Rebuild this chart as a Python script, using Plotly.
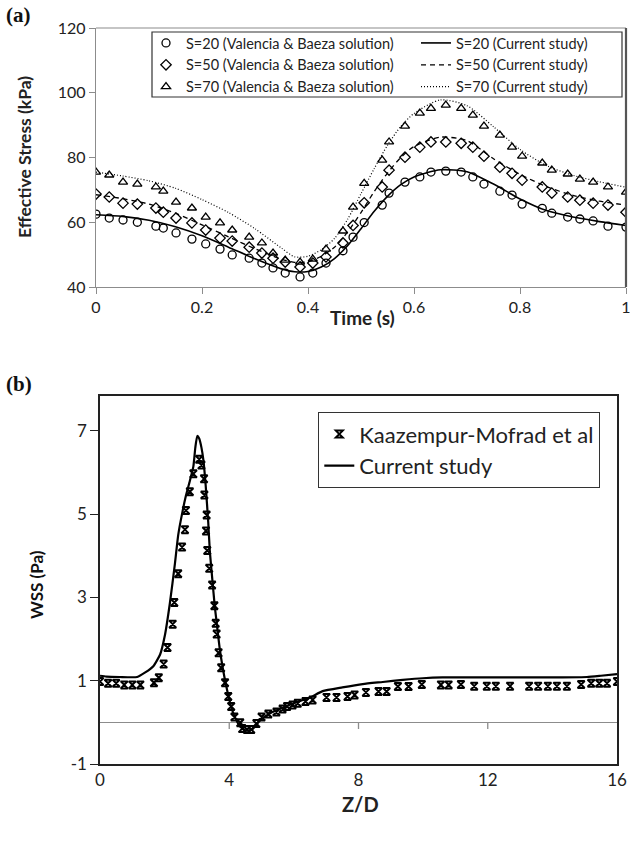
import plotly.graph_objects as go

# ---------------- Panel (a) data ----------------
t_pts = [0, 0.025, 0.051, 0.078, 0.113, 0.127, 0.151, 0.181, 0.207, 0.234, 0.257, 0.289, 0.313, 0.334,
         0.357, 0.385, 0.409, 0.434, 0.466, 0.485, 0.506, 0.54, 0.553, 0.583, 0.611, 0.632, 0.66, 0.689,
         0.711, 0.732, 0.762, 0.785, 0.804, 0.842, 0.86, 0.89, 0.913, 0.938, 0.966, 1.0]
vb_s20 = [62.5, 61.3, 60.7, 60.0, 58.8, 58.2, 56.7, 54.8, 53.3, 51.7, 49.9, 48.9, 47.4, 45.9, 44.3, 43.1,
          44.3, 47.4, 51.2, 55.4, 59.9, 65.3, 69.0, 72.4, 74.0, 75.5, 75.8, 75.5, 74.0, 71.8, 69.6, 68.4,
          65.6, 64.3, 62.8, 61.6, 61.0, 60.4, 58.8, 58.5]
vb_s50 = [68.7, 67.8, 65.9, 65.6, 64.4, 63.1, 61.3, 59.8, 57.6, 55.1, 54.2, 52.3, 50.5, 48.9, 47.7, 46.2,
          47.4, 49.3, 53.6, 59.0, 66.0, 70.9, 76.1, 80.1, 83.2, 84.8, 84.8, 84.4, 83.2, 80.4, 77.0, 75.1,
          73.0, 70.9, 69.0, 67.8, 66.8, 65.9, 65.3, 63.1]
vb_s70 = [75.5, 74.6, 72.4, 71.8, 70.9, 69.6, 66.2, 64.4, 61.6, 59.8, 57.6, 55.4, 53.6, 50.5, 48.3, 47.7,
          48.6, 51.7, 57.3, 64.7, 72.0, 79.2, 84.8, 89.7, 93.7, 95.2, 96.2, 95.2, 93.1, 89.7, 86.9, 83.2,
          80.4, 78.3, 76.1, 74.9, 73.3, 72.4, 70.9, 69.3]

t_line = [0, 0.05, 0.1, 0.15, 0.2, 0.25, 0.3, 0.35, 0.375, 0.4, 0.425, 0.45, 0.475, 0.5, 0.525, 0.55,
          0.575, 0.6, 0.65, 0.7, 0.75, 0.8, 0.85, 0.9, 0.95, 1.0]
cs_s20 = [62.3, 61.8, 60.6, 58.6, 55.8, 52.3, 48.7, 45.6, 44.7, 44.8, 46.2, 48.8, 52.8, 58.0, 63.4, 68.0,
          71.6, 74.0, 76.2, 75.6, 71.8, 67.2, 63.6, 61.6, 60.2, 59.0]
cs_s50 = [68.5, 67.3, 65.6, 62.8, 59.2, 55.5, 51.8, 48.6, 47.6, 47.8, 49.5, 52.3, 57.0, 63.0, 69.5, 75.2,
          80.0, 83.4, 86.3, 85.2, 79.6, 74.8, 71.0, 68.3, 66.5, 65.3]
cs_s70 = [75.5, 74.3, 72.8, 70.5, 67.0, 63.0, 58.0, 52.0, 49.3, 49.5, 51.5, 55.0, 61.0, 68.8, 76.6, 83.8,
          89.6, 93.6, 97.8, 96.0, 89.5, 82.5, 77.5, 74.5, 72.5, 70.8]

a_xticks = [0, 0.2, 0.4, 0.6, 0.8, 1]
a_xticklabels = ["0", "0.2", "0.4", "0.6", "0.8", "1"]
a_yticks = [40, 60, 80, 100, 120]

# ---------------- Panel (b) data ----------------
zd_exp = [0, 0.25, 0.5, 0.75, 1.0, 1.25, 1.67, 1.82, 1.97, 2.09, 2.25, 2.3, 2.42, 2.54, 2.63, 2.66, 2.78,
          2.89, 3.07, 3.14, 3.22, 3.23, 3.3, 3.28, 3.32, 3.38, 3.47, 3.54, 3.58, 3.61, 3.67, 3.75, 3.87,
          3.97, 4.06, 4.16, 4.34, 4.4, 4.55, 4.68, 4.84, 5.0, 5.21, 5.46, 5.65, 5.79, 5.96, 6.12, 6.36,
          6.58, 7.01, 7.32, 7.66, 7.88, 8.23, 8.62, 8.87, 9.22, 9.55, 9.96, 10.55, 10.79, 11.17, 11.58,
          11.97, 12.25, 12.69, 13.28, 13.56, 13.86, 14.14, 14.45, 14.89, 15.2, 15.45, 15.69, 16.0]
wss_exp = [0.98, 0.94, 0.94, 0.9, 0.9, 0.9, 0.95, 1.07, 1.4, 1.8, 2.36, 2.88, 3.57, 4.21, 4.63, 5.09, 5.54,
           5.97, 6.32, 6.18, 5.85, 5.46, 4.98, 4.6, 4.13, 3.7, 3.3, 2.8, 2.38, 2.12, 1.67, 1.31, 0.95,
           0.62, 0.38, 0.13, -0.01, -0.15, -0.17, -0.17, -0.03, 0.13, 0.2, 0.25, 0.32, 0.38, 0.42, 0.46,
           0.5, 0.54, 0.6, 0.6, 0.62, 0.66, 0.72, 0.74, 0.74, 0.86, 0.86, 0.91, 0.9, 0.9, 0.91, 0.87,
           0.87, 0.87, 0.87, 0.87, 0.87, 0.87, 0.87, 0.87, 0.91, 0.94, 0.94, 0.94, 0.98]

zd_cur = [0, 0.2, 0.6, 1.15, 1.4, 1.65, 1.86, 2.01, 2.16, 2.32, 2.42, 2.55, 2.66, 2.78, 2.89, 2.95, 3.01,
          3.07, 3.14, 3.2, 3.27, 3.35, 3.4, 3.48, 3.55, 3.61, 3.7, 3.8, 3.9, 4.03, 4.16, 4.34, 4.53, 4.71,
          4.96, 5.27, 5.65, 6.14, 6.51, 6.89, 7.5, 8.13, 8.75, 9.37, 9.99, 10.6, 11.85, 13.1, 14.3, 15.07,
          15.5, 16.0]
wss_cur = [1.12, 1.1, 1.09, 1.09, 1.2, 1.35, 1.63, 2.1, 2.85, 3.82, 4.5, 5.05, 5.45, 5.8, 6.15, 6.6, 6.88,
           6.82, 6.6, 6.3, 5.7, 4.8, 4.1, 3.4, 2.8, 2.4, 1.8, 1.3, 0.9, 0.46, 0.15, -0.1, -0.2, -0.17,
           0.05, 0.22, 0.35, 0.5, 0.6, 0.75, 0.84, 0.92, 0.97, 1.02, 1.06, 1.08, 1.08, 1.08, 1.08, 1.09,
           1.12, 1.16]

b_xticks = [0, 4, 8, 12, 16]
b_yticks = [-1, 1, 3, 5, 7]
b_yticklabels = ["-1", "1", "3", "5", "7"]

# ---------------- layout helpers ----------------
W, H = 630, 842


def px(x):
    return x / W


def py(y):
    return 1 - y / H


FONT = "Lato"
fig = go.Figure()

mk = dict(color="black", size=8, line=dict(color="black", width=1.3))
fig.add_trace(go.Scatter(x=t_pts, y=vb_s20, mode="markers", name="S=20 (Valencia &amp; Baeza solution)",
                         marker=dict(symbol="circle-open", **mk), legend="legend", legendgroup="a1",
                         xaxis="x", yaxis="y"))
fig.add_trace(go.Scatter(x=t_pts, y=vb_s50, mode="markers", name="S=50 (Valencia &amp; Baeza solution)",
                         marker=dict(symbol="diamond-open", **mk), legend="legend", legendgroup="a2",
                         xaxis="x", yaxis="y"))
fig.add_trace(go.Scatter(x=t_pts, y=vb_s70, mode="markers", name="S=70 (Valencia &amp; Baeza solution)",
                         marker=dict(symbol="triangle-up-open", **mk), legend="legend", legendgroup="a3",
                         xaxis="x", yaxis="y"))
fig.add_trace(go.Scatter(x=t_line, y=cs_s20, mode="lines", name="S=20 (Current study)",
                         line=dict(color="black", width=1.6, shape="spline", smoothing=0.7),
                         legend="legend2", legendgroup="b1", xaxis="x", yaxis="y"))
fig.add_trace(go.Scatter(x=t_line, y=cs_s50, mode="lines", name="S=50 (Current study)",
                         line=dict(color="black", width=1.3, dash="5px,4px", shape="spline", smoothing=0.7),
                         legend="legend2", legendgroup="b2", xaxis="x", yaxis="y"))
fig.add_trace(go.Scatter(x=t_line, y=cs_s70, mode="lines", name="S=70 (Current study)",
                         line=dict(color="black", width=1.2, dash="1px,2px", shape="spline", smoothing=0.7),
                         legend="legend2", legendgroup="b3", xaxis="x", yaxis="y"))

fig.add_trace(go.Scatter(x=zd_exp, y=wss_exp, mode="markers", name="Kaazempur-Mofrad et al",
                         marker=dict(symbol="hourglass-open", size=7, color="black",
                                     line=dict(color="black", width=2)),
                         legend="legend3", legendgroup="c1", xaxis="x2", yaxis="y2"))
fig.add_trace(go.Scatter(x=zd_cur, y=wss_cur, mode="lines", name="Current study",
                         line=dict(color="black", width=2.2, shape="spline", smoothing=0.5),
                         legend="legend3", legendgroup="c2", xaxis="x2", yaxis="y2"))

axis_gray = "#8c8c8c"
tickfont_a = dict(family=FONT, size=16, color="#222")
tickfont_b = dict(family=FONT, size=17, color="#222")

fig.update_layout(
    width=W, height=H,
    margin=dict(l=0, r=0, t=0, b=0),
    paper_bgcolor="white", plot_bgcolor="white",
    showlegend=True,
    xaxis=dict(domain=[px(96), px(626)], range=[0, 1], anchor="y",
               tickvals=a_xticks, ticktext=a_xticklabels, tickfont=tickfont_a,
               ticklabeloverflow="allow",
               showgrid=False, zeroline=False, showline=True, linecolor=axis_gray, linewidth=1.3,
               ticks="outside", ticklen=6, tickcolor=axis_gray, automargin=False),
    yaxis=dict(domain=[py(287), py(28)], range=[40, 120], anchor="x",
               tickvals=a_yticks, tickfont=tickfont_a, ticklabeloverflow="allow",
               showgrid=False, zeroline=False, showline=True, linecolor=axis_gray, linewidth=1.3,
               ticks="outside", ticklen=6, tickcolor=axis_gray, automargin=False),
    xaxis2=dict(domain=[px(100), px(617)], range=[0, 16], anchor="y2",
                tickvals=b_xticks, tickfont=tickfont_b, ticklabeloverflow="allow",
                showgrid=False, zeroline=False, showline=True, linecolor="#222", linewidth=1.5,
                mirror=True, ticks="", automargin=False),
    yaxis2=dict(domain=[py(764), py(396)], range=[-1, 7.84], anchor="x2",
                tickvals=b_yticks, ticktext=b_yticklabels, tickfont=tickfont_b,
                ticklabeloverflow="allow",
                showgrid=False, zeroline=True, zerolinecolor=axis_gray, zerolinewidth=1.3,
                showline=True, linecolor="#222", linewidth=1.5, mirror=True,
                ticks="outside", ticklen=8, tickcolor="#222", automargin=False),
    legend=dict(x=px(146), y=py(27), xanchor="left", yanchor="top", bgcolor="rgba(0,0,0,0)",
                font=dict(family=FONT, size=14.5, color="#222"), tracegroupgap=0, borderwidth=0),
    legend2=dict(x=px(416), y=py(27), xanchor="left", yanchor="top", bgcolor="rgba(0,0,0,0)",
                 font=dict(family=FONT, size=14.5, color="#222"), tracegroupgap=0, borderwidth=0),
    legend3=dict(x=px(318), y=py(412), xanchor="left", yanchor="top", bgcolor="white",
                 bordercolor="#333", borderwidth=1.3,
                 font=dict(family=FONT, size=22, color="#222"), tracegroupgap=0),
)

shapes = [
    # legend frame panel (a)
    dict(type="rect", xref="paper", yref="paper", x0=px(152), x1=px(622), y0=py(97), y1=py(32),
         line=dict(color="#333", width=1.2), fillcolor="rgba(0,0,0,0)", layer="above"),
    # top and right frame of panel (a)
    dict(type="line", xref="x domain", yref="y domain", x0=0, x1=1, y0=1, y1=1,
         line=dict(color=axis_gray, width=1.2)),
    dict(type="line", xref="x domain", yref="y domain", x0=1, x1=1, y0=0, y1=1,
         line=dict(color="#555", width=2.2)),
]
# small tick marks under the zero line of panel (b)
for xv in b_xticks[1:-1]:
    shapes.append(dict(type="line", xref="x2", yref="y2", x0=xv, x1=xv, y0=0, y1=-0.16,
                       line=dict(color=axis_gray, width=1.3)))
fig.update_layout(shapes=shapes)

ann = [
    dict(text="<b>(a)</b>", x=px(4), y=py(15), xanchor="left", yanchor="middle",
         font=dict(family="Liberation Serif", size=21, color="#111")),
    dict(text="<b>(b)</b>", x=px(4), y=py(384), xanchor="left", yanchor="middle",
         font=dict(family="Liberation Serif", size=21, color="#111")),
    dict(text="<b>Effective Stress (kPa)</b>", x=px(24), y=py(157), textangle=-90,
         xanchor="center", yanchor="middle", font=dict(family=FONT, size=17.5, color="#222")),
    dict(text="<b>Time (s)</b>", x=px(362), y=py(318), xanchor="center", yanchor="middle",
         font=dict(family=FONT, size=19, color="#222")),
    dict(text="<b>WSS (Pa)</b>", x=px(36), y=py(585), textangle=-90,
         xanchor="center", yanchor="middle", font=dict(family=FONT, size=17, color="#111")),
    dict(text="<b>Z/D</b>", x=px(360), y=py(804), xanchor="center", yanchor="middle",
         font=dict(family=FONT, size=20, color="#222")),
]
for a in ann:
    a.update(xref="paper", yref="paper", showarrow=False)
fig.update_layout(annotations=ann)

fig.write_html("out.html")
